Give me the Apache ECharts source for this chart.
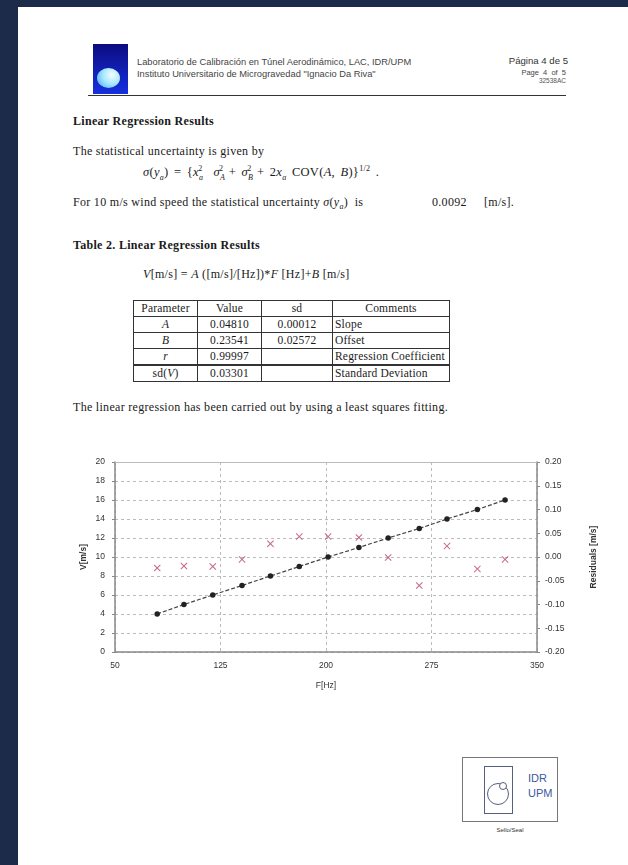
<!DOCTYPE html>
<html>
<head>
<meta charset="utf-8">
<script src="https://cdn.jsdelivr.net/npm/echarts@6/dist/echarts.min.js"></script>
<style>
html,body{margin:0;padding:0;width:628px;height:865px;overflow:hidden;background:#1d2b4b;}
#page{position:absolute;left:18px;top:7px;width:610px;height:858px;background:#fff;}
.t{position:absolute;white-space:nowrap;font-family:"Liberation Serif","Times New Roman",serif;color:#1a1a1a;font-size:12px;line-height:14px;letter-spacing:0.3px;}
.s{position:absolute;white-space:nowrap;font-family:"Liberation Sans",Arial,sans-serif;color:#333;}
#chart{position:absolute;left:0;top:430px;width:628px;height:270px;}
table{position:absolute;left:133px;top:300px;border-collapse:collapse;font-family:"Liberation Serif","Times New Roman",serif;font-size:11.5px;color:#1a1a1a;letter-spacing:0.2px;}
td{border:1px solid #333;height:15px;padding:0 2px;line-height:15px;}
.i{font-style:italic;}
sub,sup{font-size:8px;line-height:0;}
</style>
</head>
<body>
<div id="page"></div>
<!-- header -->
<div style="position:absolute;left:93px;top:44px;width:35px;height:50px;background:linear-gradient(#0c0c80,#1530e0);overflow:hidden;">
  <div style="position:absolute;left:4px;top:24px;width:23px;height:20px;border-radius:50%;background:radial-gradient(circle at 65% 35%,#f4ffff 0%,#a8e8ff 45%,#3aa0ff 100%);"></div>
</div>
<div class="s" style="left:137px;top:57px;font-size:9.3px;line-height:11px;color:#444;">Laboratorio de Calibración en Túnel Aerodinámico, LAC, IDR/UPM</div>
<div class="s" style="left:137px;top:69px;font-size:9.3px;line-height:11px;color:#444;">Instituto Universitario de Microgravedad "Ignacio Da Riva"</div>
<div class="s" style="left:470px;top:55px;width:98px;text-align:right;font-size:9.6px;line-height:12px;color:#333;">Página 4 de 5</div>
<div class="s" style="left:470px;top:68px;width:96px;text-align:right;font-size:7.5px;line-height:9px;color:#444;">Page &nbsp;4 &nbsp;of &nbsp;5</div>
<div class="s" style="left:470px;top:77px;width:96px;text-align:right;font-size:6.5px;line-height:8px;color:#555;">32538AC</div>
<div style="position:absolute;left:88px;top:95px;width:478px;height:1px;background:#333;"></div>

<!-- body text -->
<div class="t" style="left:73px;top:114px;font-weight:bold;">Linear Regression Results</div>
<div class="t" style="left:73px;top:144px;">The statistical uncertainty is given by</div>
<div class="t" style="left:143px;top:165px;font-size:12.5px;word-spacing:2px;"><span class="i">σ</span>(<span class="i">y<sub>a</sub></span>) = {<span class="i">x</span><sub class="i">a</sub><sup style="margin-left:-5px">2</sup>&nbsp; <span class="i">σ</span><sub class="i">A</sub><sup style="margin-left:-6px">2</sup> + <span class="i">σ</span><sub class="i">B</sub><sup style="margin-left:-6px">2</sup> + 2<span class="i">x<sub>a</sub></span> COV(<span class="i">A</span>, <span class="i">B</span>)}<sup>1/2</sup> .</div>
<div class="t" style="left:73px;top:195px;">For 10 m/s wind speed the statistical uncertainty <span class="i">σ</span>(<span class="i">y<sub>a</sub></span>) &nbsp;is</div>
<div class="t" style="left:432px;top:195px;">0.0092</div>
<div class="t" style="left:484px;top:195px;">[m/s].</div>
<div class="t" style="left:73px;top:238px;font-weight:bold;">Table 2. Linear Regression Results</div>
<div class="t" style="left:143px;top:267px;"><span class="i">V</span>[m/s] = <span class="i">A</span> ([m/s]/[Hz])*<span class="i">F</span> [Hz]+<span class="i">B</span> [m/s]</div>

<table>
<tr><td style="width:59px;text-align:center">Parameter</td><td style="width:59px;text-align:center">Value</td><td style="width:66px;text-align:center">sd</td><td style="width:112px;text-align:center">Comments</td></tr>
<tr><td style="text-align:center" class="i">A</td><td style="text-align:center">0.04810</td><td style="text-align:center">0.00012</td><td>Slope</td></tr>
<tr><td style="text-align:center" class="i">B</td><td style="text-align:center">0.23541</td><td style="text-align:center">0.02572</td><td>Offset</td></tr>
<tr><td style="text-align:center;border-bottom:2px solid #333" class="i">r</td><td style="text-align:center;border-bottom:2px solid #333">0.99997</td><td style="border-bottom:2px solid #333"></td><td style="border-bottom:2px solid #333">Regression Coefficient</td></tr>
<tr><td style="text-align:center">sd(<span class="i">V</span>)</td><td style="text-align:center">0.03301</td><td></td><td>Standard Deviation</td></tr>
</table>

<div class="t" style="left:73px;top:400px;">The linear regression has been carried out by using a least squares fitting.</div>

<div id="chart"></div>

<!-- seal -->
<div style="position:absolute;left:462px;top:757px;width:94px;height:63px;border:1px solid #777;background:#fff;"></div>
<div style="position:absolute;left:484px;top:766px;width:27px;height:46px;border:1px solid #556080;"></div>
<div style="position:absolute;left:487px;top:783px;width:20px;height:20px;border:1px solid #556080;border-radius:50%;"></div>
<div style="position:absolute;left:499px;top:782px;width:6px;height:6px;border:1px solid #556080;border-radius:50%;background:#fff;"></div>
<div class="s" style="left:528px;top:772px;font-size:11px;line-height:12px;color:#3b5aa0;">IDR</div>
<div class="s" style="left:528px;top:787px;font-size:11px;line-height:12px;color:#3b5aa0;">UPM</div>
<div class="s" style="left:490px;top:826px;width:40px;text-align:center;font-size:6px;line-height:8px;color:#333;">Sello/Seal</div>

<script>
var freqHz = [80.0, 99.0, 119.5, 140.3, 160.5, 181.0, 201.5, 223.4, 244.2, 266.3, 286.0, 307.6, 327.3];
var speedMs = [4, 5, 6, 7, 8, 9, 10, 11, 12, 13, 14, 15, 16];
var residualsMs = [-0.023, -0.019, -0.020, -0.005, 0.028, 0.043, 0.043, 0.041, -0.001, -0.060, 0.023, -0.025, -0.005];

var lineData = freqHz.map(function (f, i) { return [f, speedMs[i]]; });
var resData = freqHz.map(function (f, i) { return [f, residualsMs[i]]; });

var chart = echarts.init(document.getElementById('chart'), null, {renderer: 'canvas'});
var lbl = {fontFamily: 'Liberation Sans, Arial, sans-serif', fontSize: 8.5, color: '#333'};
var crossPath = 'path://M0,1L1,0L5,4L9,0L10,1L6,5L10,9L9,10L5,6L1,10L0,9L4,5Z';
chart.setOption({
  animation: false,
  backgroundColor: 'transparent',
  grid: {left: 115, right: 91, top: 32, bottom: 48},
  xAxis: [{
    type: 'value', min: 50, max: 350, interval: 75, position: 'bottom',
    name: 'F[Hz]', nameLocation: 'middle', nameGap: 29,
    nameTextStyle: {fontFamily: 'Liberation Sans, Arial, sans-serif', fontSize: 8.5, color: '#333'},
    axisLine: {show: true, onZero: false, lineStyle: {color: '#888', width: 1.5}},
    axisTick: {show: false},
    axisLabel: Object.assign({margin: 9}, lbl),
    splitLine: {show: true, lineStyle: {color: '#bbb', type: [3, 3], width: 1}}
  }, {
    type: 'value', min: 50, max: 350, position: 'top',
    axisLine: {show: true, onZero: false, lineStyle: {color: '#bbb', width: 1}},
    axisTick: {show: false}, axisLabel: {show: false}, splitLine: {show: false}
  }],
  yAxis: [{
    type: 'value', min: 0, max: 20, interval: 2, position: 'left',
    name: 'V[m/s]', nameLocation: 'middle', nameGap: 27, nameRotate: 90, nameMoveOverlap: false,
    nameTextStyle: {fontFamily: 'Liberation Sans, Arial, sans-serif', fontSize: 8.5, color: '#333', fontWeight: 'bold'},
    axisLine: {show: true, onZero: false, lineStyle: {color: '#888', width: 1.5}},
    axisTick: {show: true, length: 3, lineStyle: {color: '#888'}},
    axisLabel: Object.assign({margin: 10}, lbl),
    splitLine: {show: true, lineStyle: {color: '#bbb', type: [3, 3], width: 1}}
  }, {
    type: 'value', min: -0.2, max: 0.2, interval: 0.05, position: 'right',
    name: 'Residuals [m/s]', nameLocation: 'middle', nameGap: 52, nameRotate: 90,
    nameTextStyle: {fontFamily: 'Liberation Sans, Arial, sans-serif', fontSize: 8.5, color: '#333', fontWeight: 'bold'},
    axisLine: {show: true, onZero: false, lineStyle: {color: '#888', width: 1.5}},
    axisTick: {show: true, length: 3, lineStyle: {color: '#888'}},
    axisLabel: Object.assign({margin: 8, formatter: function (v) { return v.toFixed(2); }}, lbl),
    splitLine: {show: false}
  }],
  series: [{
    type: 'line', xAxisIndex: 0, yAxisIndex: 0, data: lineData,
    symbol: 'circle', symbolSize: 5.5,
    itemStyle: {color: '#222'},
    lineStyle: {color: '#444', width: 1.2, type: [4, 2]},
    z: 3
  }, {
    type: 'scatter', xAxisIndex: 0, yAxisIndex: 1, data: resData,
    symbol: crossPath, symbolSize: 7,
    itemStyle: {color: '#b8405c'},
    z: 4
  }]
});
</script>
</body>
</html>
